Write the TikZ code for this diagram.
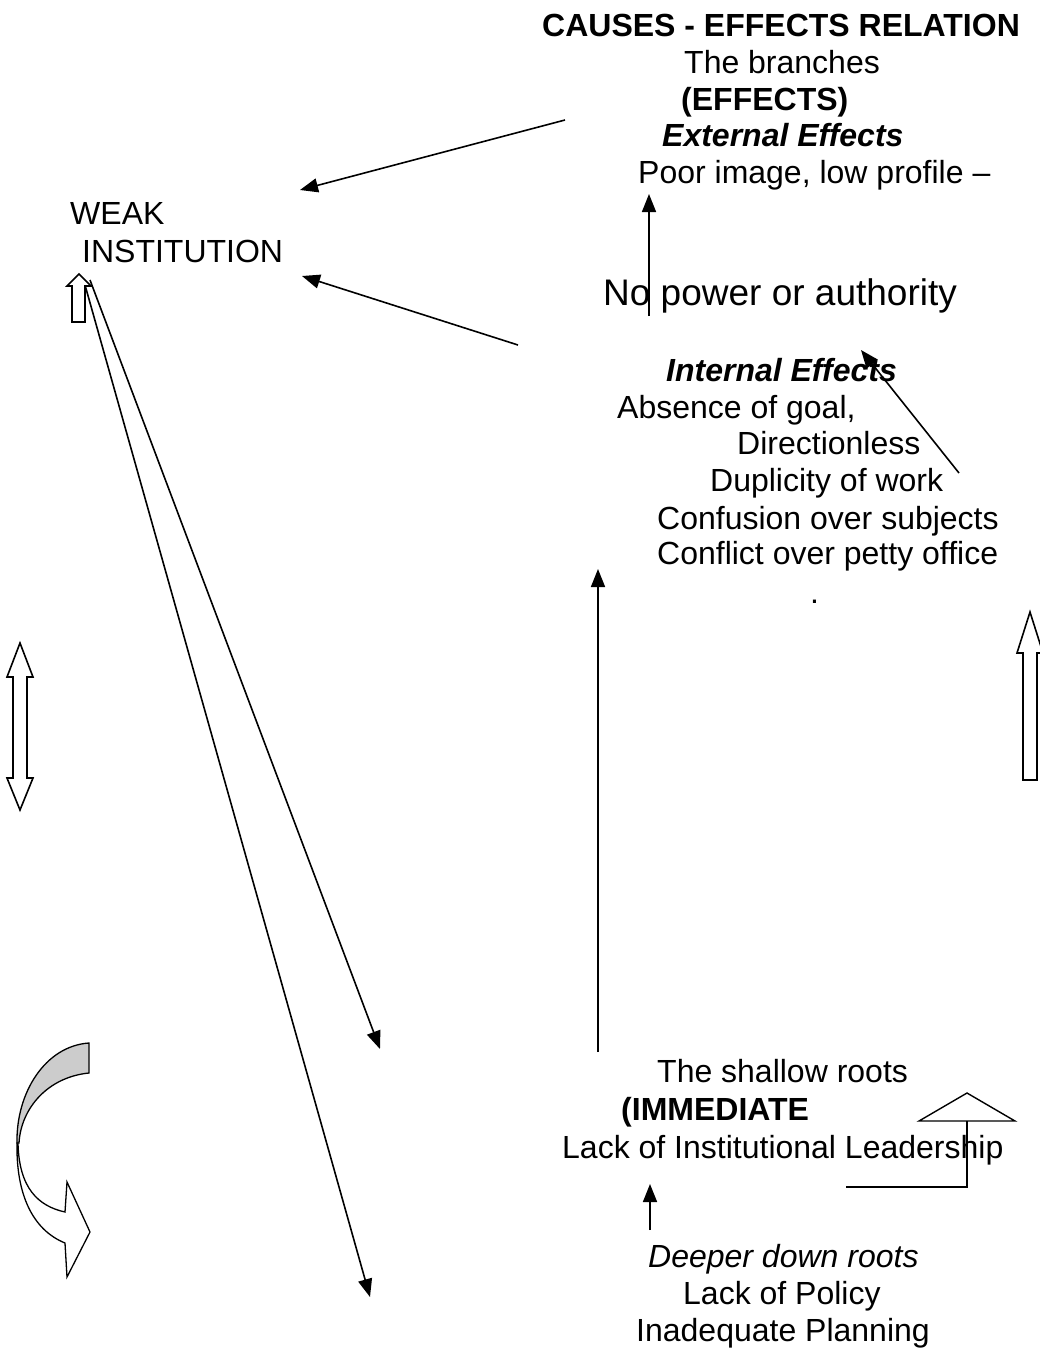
\documentclass[tikz,border=0pt]{standalone}
\usepackage{fontspec}
\setmainfont{Liberation Sans}
\usetikzlibrary{arrows.meta}
\begin{document}
\begin{tikzpicture}[x=1pt,y=-1pt,
  txt/.style={anchor=base west, inner sep=0pt, font=\fontsize{32}{37}\selectfont},
  bigtxt/.style={anchor=base west, inner sep=0pt, font=\fontsize{37}{42}\selectfont},
  conn/.style={line width=1.6pt, -{Triangle[length=18pt,width=14pt]}},
  plain/.style={line width=1.6pt},
  hollow/.style={draw=black, line width=1.6pt, fill=white, line join=miter}]
\useasboundingbox (0,0) rectangle (1040,1350);

% texts
\node[txt, font=\fontsize{32}{37}\selectfont\bfseries] (title) at (542,36) {CAUSES - EFFECTS RELATION};
\node[txt] (branches) at (684,73) {The branches};
\node[txt, font=\fontsize{32}{37}\selectfont\bfseries] (effects) at (681,110) {(EFFECTS)};
\node[txt, font=\fontsize{32}{37}\selectfont\bfseries\itshape] (ext) at (662,146) {External Effects};
\node[txt] (poor) at (638,183) {Poor image, low profile –};
\node[txt] (weak) at (70,224) {WEAK};
\node[txt] (inst) at (82,262) {INSTITUTION};
\node[bigtxt] (nopower) at (603,305) {No power or authority};
\node[txt, font=\fontsize{32}{37}\selectfont\bfseries\itshape] (int) at (666,381) {Internal Effects};
\node[txt] (absence) at (617,418) {Absence of goal,};
\node[txt] (direction) at (737,454) {Directionless};
\node[txt] (dup) at (710,491) {Duplicity of work};
\node[txt] (confusion) at (657,529) {Confusion over subjects};
\node[txt] (conflict) at (657,564) {Conflict over petty office};
\node[txt] (dot) at (810,603) {.};
\node[txt] (shallow) at (657,1082) {The shallow roots};
\node[txt, font=\fontsize{32}{37}\selectfont\bfseries] (immediate) at (621,1120) {(IMMEDIATE};
\node[txt] (leader) at (562,1158) {Lack of Institutional Leadership};
\node[txt, font=\fontsize{32}{37}\selectfont\itshape] (deeper) at (648,1267) {Deeper down roots};
\node[txt] (policy) at (683,1304) {Lack of Policy};
\node[txt] (planning) at (636,1341) {Inadequate Planning};

% coordinates for connector ends
\coordinate (a1s) at (565,120);  \coordinate (a1e) at (300,190);
\coordinate (a2s) at (518,345);  \coordinate (a2e) at (302,276);
\coordinate (a3s) at (649,316);  \coordinate (a3e) at (649,194);
\coordinate (a4s) at (959,473);  \coordinate (a4e) at (861,350);
\coordinate (a5s) at (598,1052); \coordinate (a5e) at (598,569);
\coordinate (a6s) at (650,1230); \coordinate (a6e) at (650,1184);
\coordinate (a7s) at (90,280);   \coordinate (a7e) at (380,1049);
\coordinate (a8s) at (85,285);   \coordinate (a8e) at (370,1297);

\draw[conn] (a1s) -- (a1e);
\draw[conn] (a2s) -- (a2e);
\draw[conn] (a3s) -- (a3e);
\draw[conn] (a4s) -- (a4e);
\draw[conn] (a5s) -- (a5e);
\draw[conn] (a6s) -- (a6e);
\draw[conn] (a7s) -- (a7e);
\draw[conn] (a8s) -- (a8e);

% hollow up arrow near WEAK INSTITUTION
\draw[hollow] (79,274) -- (91,286) -- (85,286) -- (85,322) -- (72,322) -- (72,286) -- (67,286) -- cycle;

% hollow double arrow left
\draw[hollow] (20,643) -- (33,677) -- (27,677) -- (27,778) -- (33,778) -- (20,810)
  -- (7,778) -- (13,778) -- (13,677) -- (7,677) -- cycle;

% hollow up arrow right
\draw[hollow] (1030,612) -- (1043,653) -- (1037,653) -- (1037,780) -- (1023,780) -- (1023,653) -- (1017,653) -- cycle;

% curved arrow bottom left
\draw[hollow, line width=1.3pt] (18,1143) .. controls (19,1188) and (38,1206) .. (65,1212)
  -- (67,1182) -- (90,1232) -- (67,1277) -- (65,1243)
  .. controls (33,1230) and (16,1195) .. (17,1143) -- cycle;
\draw[hollow, line width=1.3pt, fill=black!20] (89,1043) -- (89,1073)
  .. controls (48,1077) and (21,1108) .. (19,1143)
  -- (17,1143) .. controls (16,1093) and (45,1046) .. (89,1043) -- cycle;

% elbow arrow bottom right
\coordinate (e0) at (846,1187);
\coordinate (e1) at (967,1187);
\coordinate (e2) at (967,1121);
\draw[plain] (e0) -- (e1) -- (e2);
\draw[hollow, fill=none, line width=1.4pt] (919,1121) -- (967,1093) -- (1015,1121) -- cycle;
\end{tikzpicture}
\end{document}
